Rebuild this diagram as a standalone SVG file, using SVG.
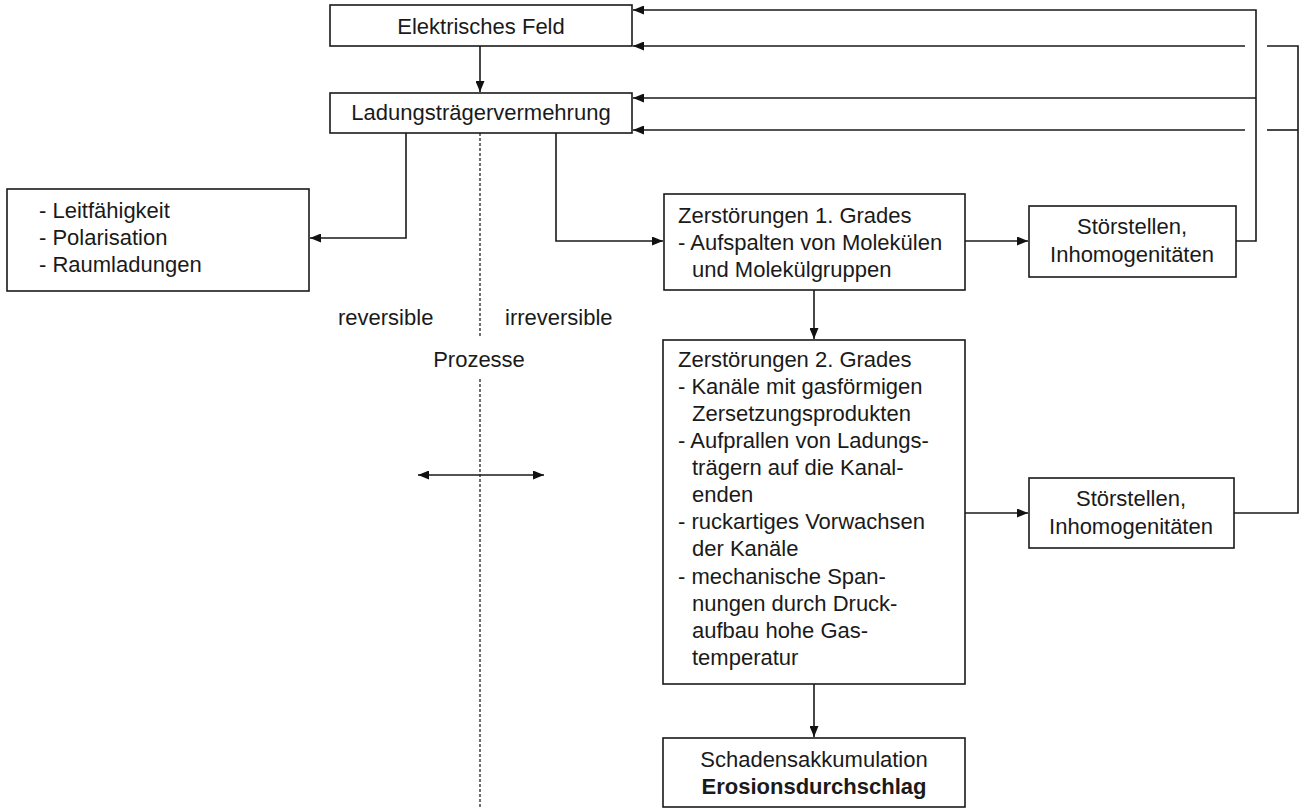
<svg xmlns="http://www.w3.org/2000/svg" width="1301" height="809" viewBox="0 0 1301 809">
<defs>
<marker id="ah" viewBox="0 0 11 9" refX="11" refY="4.5" markerWidth="11" markerHeight="9" markerUnits="userSpaceOnUse" orient="auto-start-reverse">
<path d="M0,0 L11,4.5 L0,9 z" fill="#111"/>
</marker>
<style>
.box{fill:#fff;stroke:#1a1a1a;stroke-width:1.6}
.t{font-family:"Liberation Sans",Arial,sans-serif;font-size:22px;fill:#1a1a1a}
.c{text-anchor:middle}
.b{font-weight:bold}
.ln{fill:none;stroke:#1a1a1a;stroke-width:1.6}
.arr{marker-end:url(#ah)}
.dash{fill:none;stroke:#222;stroke-width:1.3;stroke-dasharray:3,2}
</style>
</defs>
<rect width="1301" height="809" fill="#fff"/>
<g id="connectors">
<path class="ln arr" d="M480,46 V92"/>
<path class="ln arr" d="M406,133 V238 H310"/>
<path class="ln arr" d="M556,133 V241 H663"/>
<path class="ln arr" d="M965,241 H1028"/>
<path class="ln arr" d="M814,290 V339"/>
<path class="ln arr" d="M965,513 H1028"/>
<path class="ln arr" d="M814,684 V737"/>
<path class="ln arr" d="M1236,241 H1256 V10 H633"/>
<path class="ln arr" d="M1256,98 H633"/>
<path class="ln" d="M1234,513 H1298 V46 H1267"/>
<path class="ln arr" d="M1245,46 H633"/>
<path class="ln" d="M1298,130 H1267"/>
<path class="ln arr" d="M1245,130 H633"/>
<path class="dash" d="M480,133 V337 M480,379 V809"/>
<path class="ln" d="M418,475 H544" marker-start="url(#ah)" marker-end="url(#ah)"/>
</g>
<g id="elektrisches-feld">
<rect class="box" x="330" y="5" width="302" height="41"/>
<text class="t c" x="481" y="34">Elektrisches Feld</text>
</g>
<g id="ladungstraegervermehrung">
<rect class="box" x="330" y="93" width="302" height="40"/>
<text class="t c" x="481" y="120">Ladungsträgervermehrung</text>
</g>
<g id="reversible-effekte">
<rect class="box" x="7" y="189" width="302" height="102"/>
<text class="t" x="39" y="218">- Leitfähigkeit</text>
<text class="t" x="39" y="245">- Polarisation</text>
<text class="t" x="39" y="272">- Raumladungen</text>
</g>
<g id="labels">
<text class="t" x="338" y="325">reversible</text>
<text class="t" x="505" y="325">irreversible</text>
<text class="t c" x="479" y="367">Prozesse</text>
</g>
<g id="zerstoerungen-1">
<rect class="box" x="664" y="194" width="301" height="96"/>
<text class="t" x="678" y="223">Zerstörungen 1. Grades</text>
<text class="t" x="678" y="250">- Aufspalten von Molekülen</text>
<text class="t" x="692" y="277">und Molekülgruppen</text>
</g>
<g id="stoerstellen-1">
<rect class="box" x="1029" y="206" width="207" height="71"/>
<text class="t c" x="1132" y="234">Störstellen,</text>
<text class="t c" x="1132" y="262">Inhomogenitäten</text>
</g>
<g id="zerstoerungen-2">
<rect class="box" x="663" y="340" width="302" height="344"/>
<text class="t" x="678" y="367">Zerstörungen 2. Grades</text>
<text class="t" x="678" y="394">- Kanäle mit gasförmigen</text>
<text class="t" x="692" y="421">Zersetzungsprodukten</text>
<text class="t" x="678" y="448">- Aufprallen von Ladungs-</text>
<text class="t" x="692" y="475">trägern auf die Kanal-</text>
<text class="t" x="692" y="502">enden</text>
<text class="t" x="678" y="529">- ruckartiges Vorwachsen</text>
<text class="t" x="692" y="556">der Kanäle</text>
<text class="t" x="678" y="584">- mechanische Span-</text>
<text class="t" x="692" y="611">nungen durch Druck-</text>
<text class="t" x="692" y="638">aufbau hohe Gas-</text>
<text class="t" x="692" y="665">temperatur</text>
</g>
<g id="stoerstellen-2">
<rect class="box" x="1029" y="478" width="205" height="70"/>
<text class="t c" x="1131" y="506">Störstellen,</text>
<text class="t c" x="1131" y="534">Inhomogenitäten</text>
</g>
<g id="schadensakkumulation">
<rect class="box" x="663" y="738" width="302" height="69"/>
<text class="t c" x="814" y="767">Schadensakkumulation</text>
<text class="t c b" x="814" y="794">Erosionsdurchschlag</text>
</g>
</svg>
